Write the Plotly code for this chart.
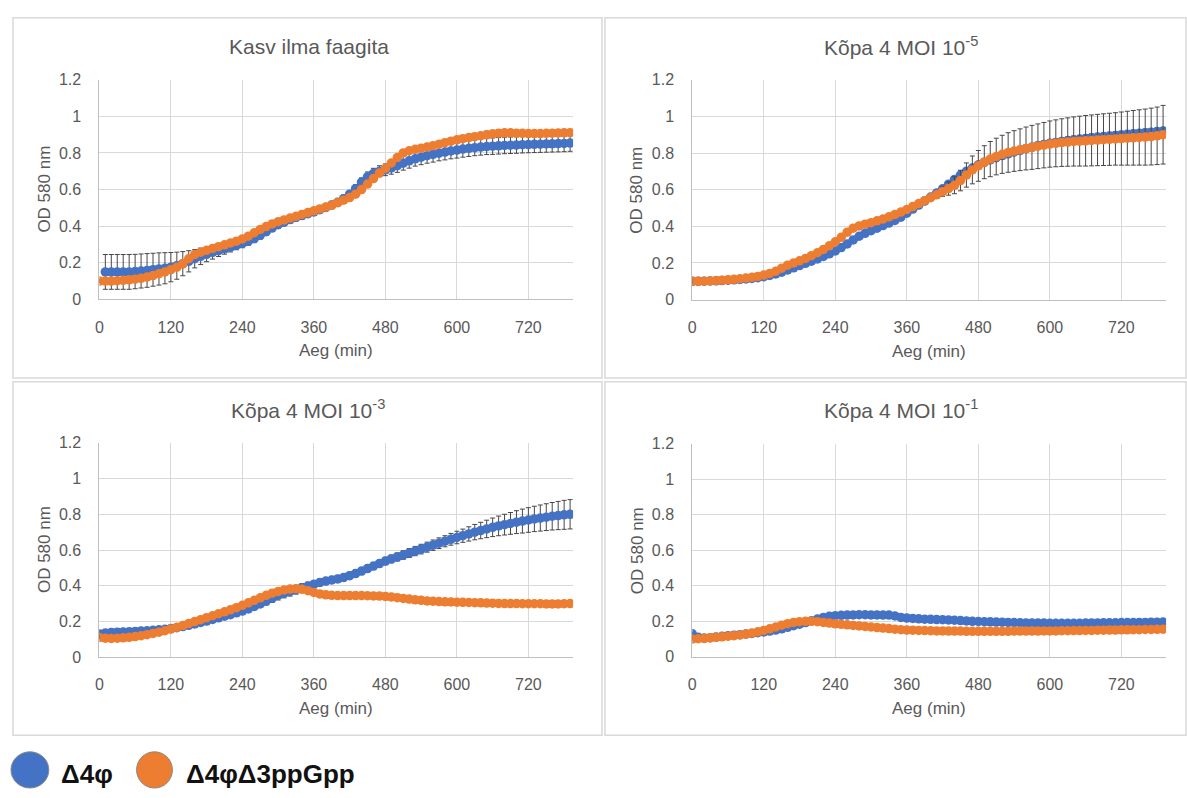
import plotly.graph_objects as go

W, H = 1187, 798

# ---------------- data ----------------
time_min = list(range(0, 800, 10))

# Panel 1: Kasv ilma faagita
kasv_d4 = [None, 0.150, 0.150, 0.150, 0.150, 0.150, 0.152, 0.155, 0.158, 0.162,
           0.166, 0.170, 0.176, 0.184, 0.195, 0.208, 0.222, 0.235, 0.246, 0.256,
           0.266, 0.276, 0.286, 0.296, 0.306, 0.318, 0.332, 0.350, 0.370, 0.390,
           0.408, 0.422, 0.436, 0.448, 0.458, 0.468, 0.478, 0.490, 0.502, 0.516,
           0.530, 0.550, 0.575, 0.605, 0.640, 0.670, 0.688, 0.700, 0.708, 0.718,
           0.730, 0.744, 0.757, 0.768, 0.777, 0.785, 0.792, 0.799, 0.805, 0.811,
           0.816, 0.821, 0.825, 0.829, 0.832, 0.835, 0.837, 0.839, 0.841, 0.842,
           0.843, 0.845, 0.846, 0.847, 0.848, 0.849, 0.850, 0.851, 0.852, 0.854]
kasv_d4_err = [0.000, 0.095, 0.095, 0.095, 0.095, 0.095, 0.094, 0.093, 0.092, 0.090,
               0.088, 0.085, 0.080, 0.074, 0.066, 0.058, 0.050, 0.045, 0.040, 0.036,
               0.032, 0.029, 0.027, 0.025, 0.024, 0.023, 0.022, 0.021, 0.020, 0.020,
               0.020, 0.020, 0.020, 0.020, 0.020, 0.020, 0.020, 0.020, 0.020, 0.020,
               0.020, 0.020, 0.020, 0.022, 0.024, 0.026, 0.028, 0.030, 0.032, 0.034,
               0.036, 0.038, 0.040, 0.040, 0.041, 0.041, 0.042, 0.042, 0.043, 0.043,
               0.044, 0.044, 0.044, 0.044, 0.044, 0.044, 0.045, 0.045, 0.045, 0.045,
               0.045, 0.045, 0.045, 0.045, 0.045, 0.045, 0.045, 0.045, 0.045, 0.045]
kasv_d4d3 = [0.100, 0.100, 0.100, 0.102, 0.104, 0.107, 0.110, 0.115, 0.122, 0.130,
             0.140, 0.150, 0.162, 0.176, 0.194, 0.222, 0.245, 0.258, 0.268, 0.278,
             0.288, 0.298, 0.308, 0.318, 0.330, 0.345, 0.364, 0.382, 0.398, 0.412,
             0.424, 0.434, 0.444, 0.454, 0.464, 0.474, 0.484, 0.494, 0.504, 0.514,
             0.528, 0.542, 0.556, 0.575, 0.600, 0.630, 0.660, 0.690, 0.715, 0.745,
             0.775, 0.800, 0.812, 0.820, 0.826, 0.832, 0.840, 0.848, 0.856, 0.864,
             0.872, 0.878, 0.884, 0.889, 0.894, 0.899, 0.904, 0.908, 0.910, 0.910,
             0.908, 0.907, 0.906, 0.906, 0.906, 0.907, 0.908, 0.909, 0.910, 0.911]
kasv_d4d3_err = [0.008, 0.008, 0.008, 0.008, 0.008, 0.008, 0.008, 0.008, 0.008, 0.008,
                 0.008, 0.008, 0.008, 0.008, 0.008, 0.008, 0.008, 0.008, 0.008, 0.008,
                 0.008, 0.008, 0.008, 0.008, 0.008, 0.008, 0.008, 0.008, 0.008, 0.008,
                 0.008, 0.008, 0.008, 0.008, 0.008, 0.008, 0.008, 0.008, 0.008, 0.008,
                 0.008, 0.008, 0.008, 0.008, 0.008, 0.008, 0.008, 0.008, 0.008, 0.008,
                 0.008, 0.008, 0.008, 0.008, 0.008, 0.008, 0.008, 0.008, 0.008, 0.008,
                 0.010, 0.012, 0.014, 0.016, 0.018, 0.020, 0.020, 0.020, 0.018, 0.014,
                 0.010, 0.010, 0.010, 0.010, 0.010, 0.010, 0.010, 0.010, 0.010, 0.010]

# Panel 2: Kõpa 4 MOI 10^-5
m5_d4 = [0.100, 0.100, 0.101, 0.102, 0.103, 0.104, 0.106, 0.108, 0.110, 0.113,
         0.116, 0.120, 0.125, 0.132, 0.140, 0.150, 0.162, 0.174, 0.186, 0.198,
         0.210, 0.222, 0.236, 0.250, 0.266, 0.284, 0.304, 0.326, 0.346, 0.362,
         0.376, 0.390, 0.404, 0.418, 0.432, 0.450, 0.472, 0.494, 0.516, 0.538,
         0.560, 0.582, 0.605, 0.630, 0.656, 0.680, 0.700, 0.718, 0.735, 0.750,
         0.763, 0.775, 0.786, 0.796, 0.806, 0.815, 0.824, 0.832, 0.840, 0.847,
         0.853, 0.858, 0.863, 0.868, 0.872, 0.876, 0.880, 0.884, 0.887, 0.890,
         0.893, 0.896, 0.899, 0.902, 0.905, 0.908, 0.911, 0.914, 0.917, 0.920]
m5_d4_err = [0.006, 0.006, 0.006, 0.006, 0.006, 0.006, 0.006, 0.006, 0.006, 0.006,
             0.006, 0.006, 0.006, 0.006, 0.006, 0.006, 0.006, 0.006, 0.006, 0.006,
             0.006, 0.006, 0.006, 0.006, 0.006, 0.006, 0.006, 0.006, 0.006, 0.006,
             0.006, 0.006, 0.006, 0.006, 0.006, 0.006, 0.006, 0.006, 0.006, 0.006,
             0.008, 0.010, 0.012, 0.014, 0.016, 0.018, 0.020, 0.020, 0.020, 0.020,
             0.020, 0.020, 0.020, 0.020, 0.020, 0.020, 0.020, 0.020, 0.020, 0.020,
             0.020, 0.020, 0.020, 0.020, 0.020, 0.020, 0.020, 0.020, 0.020, 0.020,
             0.020, 0.020, 0.020, 0.020, 0.020, 0.020, 0.020, 0.020, 0.020, 0.020]
m5_d4d3 = [0.100, 0.100, 0.101, 0.102, 0.104, 0.106, 0.108, 0.111, 0.114, 0.118,
           0.122, 0.127, 0.134, 0.143, 0.155, 0.172, 0.188, 0.200, 0.212, 0.225,
           0.240, 0.256, 0.274, 0.294, 0.316, 0.340, 0.368, 0.390, 0.402, 0.412,
           0.420, 0.430, 0.440, 0.452, 0.464, 0.478, 0.492, 0.508, 0.524, 0.540,
           0.556, 0.572, 0.590, 0.606, 0.624, 0.650, 0.680, 0.708, 0.730, 0.750,
           0.767, 0.781, 0.793, 0.803, 0.811, 0.818, 0.825, 0.831, 0.837, 0.843,
           0.849, 0.853, 0.857, 0.860, 0.863, 0.865, 0.867, 0.869, 0.871, 0.873,
           0.875, 0.877, 0.879, 0.881, 0.883, 0.885, 0.887, 0.890, 0.894, 0.900]
m5_d4d3_err = [0.008, 0.008, 0.008, 0.008, 0.008, 0.008, 0.008, 0.008, 0.008, 0.008,
               0.008, 0.008, 0.008, 0.008, 0.008, 0.008, 0.008, 0.008, 0.008, 0.008,
               0.008, 0.008, 0.008, 0.008, 0.008, 0.008, 0.008, 0.008, 0.008, 0.008,
               0.008, 0.008, 0.008, 0.008, 0.008, 0.008, 0.008, 0.008, 0.008, 0.010,
               0.012, 0.018, 0.026, 0.036, 0.046, 0.056, 0.066, 0.076, 0.084, 0.090,
               0.096, 0.100, 0.104, 0.108, 0.111, 0.114, 0.117, 0.120, 0.122, 0.124,
               0.126, 0.128, 0.130, 0.132, 0.134, 0.136, 0.138, 0.139, 0.140, 0.141,
               0.142, 0.143, 0.145, 0.147, 0.149, 0.151, 0.153, 0.155, 0.157, 0.160]

# Panel 3: Kõpa 4 MOI 10^-3
m3_d4 = [0.130, 0.135, 0.138, 0.140, 0.141, 0.142, 0.144, 0.146, 0.148, 0.150,
         0.153, 0.156, 0.160, 0.165, 0.171, 0.178, 0.186, 0.194, 0.202, 0.211,
         0.220, 0.229, 0.238, 0.248, 0.258, 0.270, 0.284, 0.298, 0.314, 0.330,
         0.346, 0.358, 0.368, 0.378, 0.388, 0.398, 0.408, 0.418, 0.426, 0.432,
         0.438, 0.446, 0.456, 0.468, 0.482, 0.496, 0.510, 0.524, 0.538, 0.550,
         0.561, 0.572, 0.583, 0.594, 0.605, 0.616, 0.627, 0.638, 0.649, 0.660,
         0.670, 0.680, 0.690, 0.700, 0.709, 0.718, 0.727, 0.735, 0.742, 0.749,
         0.756, 0.762, 0.768, 0.774, 0.779, 0.784, 0.789, 0.793, 0.797, 0.800]
m3_d4_err = [0.020, 0.020, 0.020, 0.020, 0.020, 0.018, 0.018, 0.017, 0.016, 0.015,
             0.015, 0.014, 0.012, 0.010, 0.010, 0.010, 0.010, 0.010, 0.010, 0.010,
             0.010, 0.010, 0.010, 0.012, 0.014, 0.016, 0.018, 0.020, 0.022, 0.024,
             0.026, 0.026, 0.026, 0.025, 0.024, 0.022, 0.020, 0.020, 0.020, 0.020,
             0.020, 0.020, 0.020, 0.020, 0.020, 0.020, 0.020, 0.020, 0.021, 0.022,
             0.023, 0.024, 0.025, 0.026, 0.027, 0.028, 0.029, 0.030, 0.031, 0.033,
             0.035, 0.037, 0.040, 0.043, 0.046, 0.049, 0.052, 0.055, 0.058, 0.061,
             0.064, 0.067, 0.069, 0.071, 0.073, 0.075, 0.077, 0.079, 0.081, 0.082]
m3_d4d3 = [0.110, 0.106, 0.105, 0.106, 0.108, 0.111, 0.115, 0.120, 0.126, 0.133,
           0.140, 0.148, 0.157, 0.167, 0.177, 0.188, 0.199, 0.210, 0.221, 0.232,
           0.243, 0.254, 0.265, 0.277, 0.290, 0.304, 0.318, 0.332, 0.346, 0.358,
           0.368, 0.376, 0.381, 0.383, 0.380, 0.372, 0.362, 0.354, 0.349, 0.346,
           0.345, 0.345, 0.345, 0.345, 0.345, 0.344, 0.343, 0.342, 0.340, 0.337,
           0.333, 0.329, 0.325, 0.321, 0.318, 0.315, 0.313, 0.311, 0.310, 0.309,
           0.308, 0.307, 0.306, 0.305, 0.304, 0.303, 0.302, 0.301, 0.300, 0.300,
           0.300, 0.299, 0.299, 0.299, 0.299, 0.298, 0.298, 0.298, 0.299, 0.300]
m3_d4d3_err = [0.008, 0.008, 0.008, 0.008, 0.008, 0.008, 0.008, 0.008, 0.008, 0.008,
               0.008, 0.008, 0.008, 0.008, 0.008, 0.008, 0.008, 0.008, 0.008, 0.008,
               0.008, 0.008, 0.008, 0.008, 0.008, 0.008, 0.008, 0.008, 0.008, 0.008,
               0.008, 0.008, 0.008, 0.008, 0.008, 0.008, 0.008, 0.008, 0.008, 0.008,
               0.008, 0.008, 0.008, 0.008, 0.010, 0.014, 0.018, 0.018, 0.018, 0.014,
               0.010, 0.010, 0.012, 0.012, 0.012, 0.010, 0.008, 0.008, 0.008, 0.008,
               0.008, 0.008, 0.008, 0.008, 0.008, 0.008, 0.008, 0.008, 0.008, 0.008,
               0.008, 0.008, 0.008, 0.008, 0.008, 0.008, 0.008, 0.008, 0.008, 0.008]

# Panel 4: Kõpa 4 MOI 10^-1
m1_d4 = [0.130, 0.110, 0.106, 0.108, 0.112, 0.116, 0.119, 0.122, 0.125, 0.128,
         0.132, 0.136, 0.140, 0.145, 0.151, 0.158, 0.166, 0.175, 0.184, 0.193,
         0.203, 0.213, 0.222, 0.228, 0.232, 0.234, 0.235, 0.236, 0.237, 0.237,
         0.236, 0.236, 0.235, 0.235, 0.230, 0.222, 0.218, 0.216, 0.214, 0.212,
         0.211, 0.210, 0.209, 0.208, 0.206, 0.204, 0.202, 0.200, 0.199, 0.198,
         0.197, 0.196, 0.195, 0.194, 0.193, 0.192, 0.191, 0.191, 0.190, 0.190,
         0.189, 0.189, 0.189, 0.189, 0.189, 0.189, 0.190, 0.191, 0.191, 0.192,
         0.192, 0.192, 0.193, 0.193, 0.193, 0.194, 0.194, 0.195, 0.195, 0.196]
m1_d4_err = [0.006, 0.006, 0.006, 0.006, 0.006, 0.006, 0.006, 0.006, 0.006, 0.006,
             0.006, 0.006, 0.006, 0.006, 0.006, 0.006, 0.006, 0.006, 0.006, 0.006,
             0.006, 0.006, 0.006, 0.006, 0.006, 0.006, 0.006, 0.006, 0.006, 0.006,
             0.006, 0.006, 0.006, 0.006, 0.006, 0.006, 0.006, 0.006, 0.006, 0.006,
             0.006, 0.006, 0.006, 0.006, 0.006, 0.006, 0.006, 0.006, 0.006, 0.006,
             0.006, 0.006, 0.006, 0.006, 0.006, 0.006, 0.006, 0.006, 0.006, 0.006,
             0.006, 0.006, 0.006, 0.006, 0.006, 0.006, 0.006, 0.006, 0.006, 0.006,
             0.006, 0.006, 0.006, 0.006, 0.006, 0.006, 0.006, 0.006, 0.006, 0.006]
m1_d4d3 = [0.100, 0.102, 0.104, 0.107, 0.110, 0.113, 0.116, 0.119, 0.123, 0.128,
           0.134, 0.141, 0.149, 0.158, 0.168, 0.178, 0.187, 0.194, 0.198, 0.200,
           0.200, 0.198, 0.194, 0.190, 0.186, 0.183, 0.180, 0.177, 0.174, 0.171,
           0.168, 0.165, 0.162, 0.159, 0.156, 0.153, 0.151, 0.150, 0.149, 0.148,
           0.147, 0.146, 0.146, 0.145, 0.145, 0.145, 0.144, 0.144, 0.144, 0.144,
           0.144, 0.144, 0.144, 0.144, 0.145, 0.145, 0.145, 0.145, 0.145, 0.146,
           0.146, 0.146, 0.147, 0.147, 0.148, 0.148, 0.149, 0.149, 0.150, 0.150,
           0.151, 0.151, 0.152, 0.152, 0.153, 0.153, 0.154, 0.154, 0.155, 0.156]
m1_d4d3_err = [0.006, 0.006, 0.006, 0.006, 0.006, 0.006, 0.006, 0.006, 0.006, 0.006,
               0.006, 0.006, 0.006, 0.006, 0.006, 0.006, 0.006, 0.006, 0.006, 0.006,
               0.006, 0.006, 0.006, 0.006, 0.006, 0.006, 0.006, 0.006, 0.006, 0.006,
               0.006, 0.006, 0.006, 0.006, 0.006, 0.006, 0.006, 0.006, 0.006, 0.006,
               0.006, 0.006, 0.006, 0.006, 0.006, 0.006, 0.006, 0.006, 0.006, 0.006,
               0.006, 0.006, 0.006, 0.006, 0.006, 0.006, 0.006, 0.006, 0.006, 0.006,
               0.006, 0.006, 0.006, 0.006, 0.006, 0.006, 0.006, 0.006, 0.006, 0.006,
               0.006, 0.006, 0.006, 0.006, 0.006, 0.006, 0.006, 0.006, 0.006, 0.006]

panel_titles = ["Kasv ilma faagita",
                "Kõpa 4 MOI 10<sup>-5</sup>",
                "Kõpa 4 MOI 10<sup>-3</sup>",
                "Kõpa 4 MOI 10<sup>-1</sup>"]
series_names = ["Δ4φ", "Δ4φΔ3ppGpp"]
x_ticks = [0, 120, 240, 360, 480, 600, 720]
y_ticks = [0, 0.2, 0.4, 0.6, 0.8, 1.0, 1.2]
x_title = "Aeg (min)"
y_title = "OD 580 nm"

# ---------------- layout geometry (pixels) ----------------
BLUE = "#4472C4"
ORANGE = "#ED7D31"
TXT = "#595959"
GRID = "#d9d9d9"
FONT = "Liberation Sans, Arial, sans-serif"

def px(x):
    return x / W

def py(y):
    return 1 - y / H

panels = [
    dict(title=panel_titles[0], a=kasv_d4, ae=kasv_d4_err, b=kasv_d4d3, be=kasv_d4d3_err,
         plot=(95.7, 73.3, 571, 297.7), box=(9, 10, 600, 378), tpos=(306, 39)),
    dict(title=panel_titles[1], a=m5_d4, ae=m5_d4_err, b=m5_d4d3, be=m5_d4d3_err,
         plot=(690.6, 73.3, 1166, 298), box=(603, 10, 1186, 378), tpos=(900, 39)),
    dict(title=panel_titles[2], a=m3_d4, ae=m3_d4_err, b=m3_d4d3, be=m3_d4d3_err,
         plot=(95.7, 444.3, 571, 663.3), box=(9, 382, 600, 743), tpos=(305, 410)),
    dict(title=panel_titles[3], a=m1_d4, ae=m1_d4_err, b=m1_d4d3, be=m1_d4d3_err,
         plot=(690.6, 445, 1166, 663), box=(603, 382, 1186, 743), tpos=(900, 410)),
]

fig = go.Figure()
shapes = []
annotations = []

for i, p in enumerate(panels):
    n = "" if i == 0 else str(i + 1)
    xr, yr = "x" + n, "y" + n
    for vals, errs, col in ((p["a"], p["ae"], BLUE), (p["b"], p["be"], ORANGE)):
        fig.add_trace(go.Scatter(
            x=time_min, y=vals, xaxis=xr, yaxis=yr, mode="markers",
            marker=dict(size=9.5, color=col, line=dict(width=0)),
            error_y=dict(type="data", array=errs, symmetric=True, color="#474747",
                         thickness=1, width=2.5),
            showlegend=False, hoverinfo="x+y"))
    x0, y0, x1, y1 = p["plot"]
    fig.update_layout(**{
        "xaxis" + n: dict(domain=[px(x0), px(x1)], anchor=yr, range=[0, 795],
                          tickvals=x_ticks, showgrid=True, gridcolor=GRID, gridwidth=1,
                          showline=True, linecolor="#bfbfbf", linewidth=1, zeroline=False,
                          ticks="outside", ticklen=13, tickcolor="rgba(0,0,0,0)",
                          tickfont=dict(family=FONT, size=16, color=TXT)),
        "yaxis" + n: dict(domain=[py(y1), py(y0)], anchor=xr, range=[0, 1.2],
                          tickvals=y_ticks, showgrid=True, gridcolor=GRID, gridwidth=1,
                          showline=True, linecolor="#bfbfbf", linewidth=1, zeroline=False,
                          ticks="outside", ticklen=14, tickcolor="rgba(0,0,0,0)",
                          tickfont=dict(family=FONT, size=16, color=TXT)),
    })
    bx0, by0, bx1, by1 = p["box"]
    shapes.append(dict(type="rect", xref="paper", yref="paper",
                       x0=px(bx0), x1=px(bx1), y0=py(by1), y1=py(by0),
                       line=dict(color=GRID, width=1.5), layer="below"))
    annotations.append(dict(text=p["title"], x=px(p["tpos"][0]), y=py(p["tpos"][1]),
                            xref="paper", yref="paper", showarrow=False,
                            xanchor="center", yanchor="middle",
                            font=dict(family=FONT, size=21, color=TXT)))
    annotations.append(dict(text=x_title, x=px((x0 + x1) / 2), y=py(y1 + 52.5),
                            xref="paper", yref="paper", showarrow=False,
                            xanchor="center", yanchor="middle",
                            font=dict(family=FONT, size=17, color=TXT)))
    annotations.append(dict(text=y_title, x=px(x0 - 55.5), y=py((y0 + y1) / 2),
                            xref="paper", yref="paper", showarrow=False, textangle=-90,
                            xanchor="center", yanchor="middle",
                            font=dict(family=FONT, size=17, color=TXT)))

# legend (drawn manually with large circles)
for (cx0, cx1), col in (((7, 45), BLUE), ((133, 169), ORANGE)):
    shapes.append(dict(type="circle", xref="paper", yref="paper",
                       x0=px(cx0), x1=px(cx1), y0=py(797), y1=py(760),
                       fillcolor=col, line=dict(color="#8a8a8a", width=1)))
for name, lx in zip(series_names, (55, 181)):
    annotations.append(dict(text="<b>" + name + "</b>", x=px(lx), y=py(783),
                            xref="paper", yref="paper", showarrow=False,
                            xanchor="left", yanchor="middle",
                            font=dict(family=FONT, size=26, color="#111111")))

fig.update_layout(width=W, height=H, margin=dict(l=0, r=0, t=0, b=0),
                  paper_bgcolor="white", plot_bgcolor="white",
                  shapes=shapes, annotations=annotations)

fig.write_html("out.html",
               config={"displayModeBar": False},
               post_script="document.body.style.margin='0';"
                           "document.body.style.overflow='hidden';")
